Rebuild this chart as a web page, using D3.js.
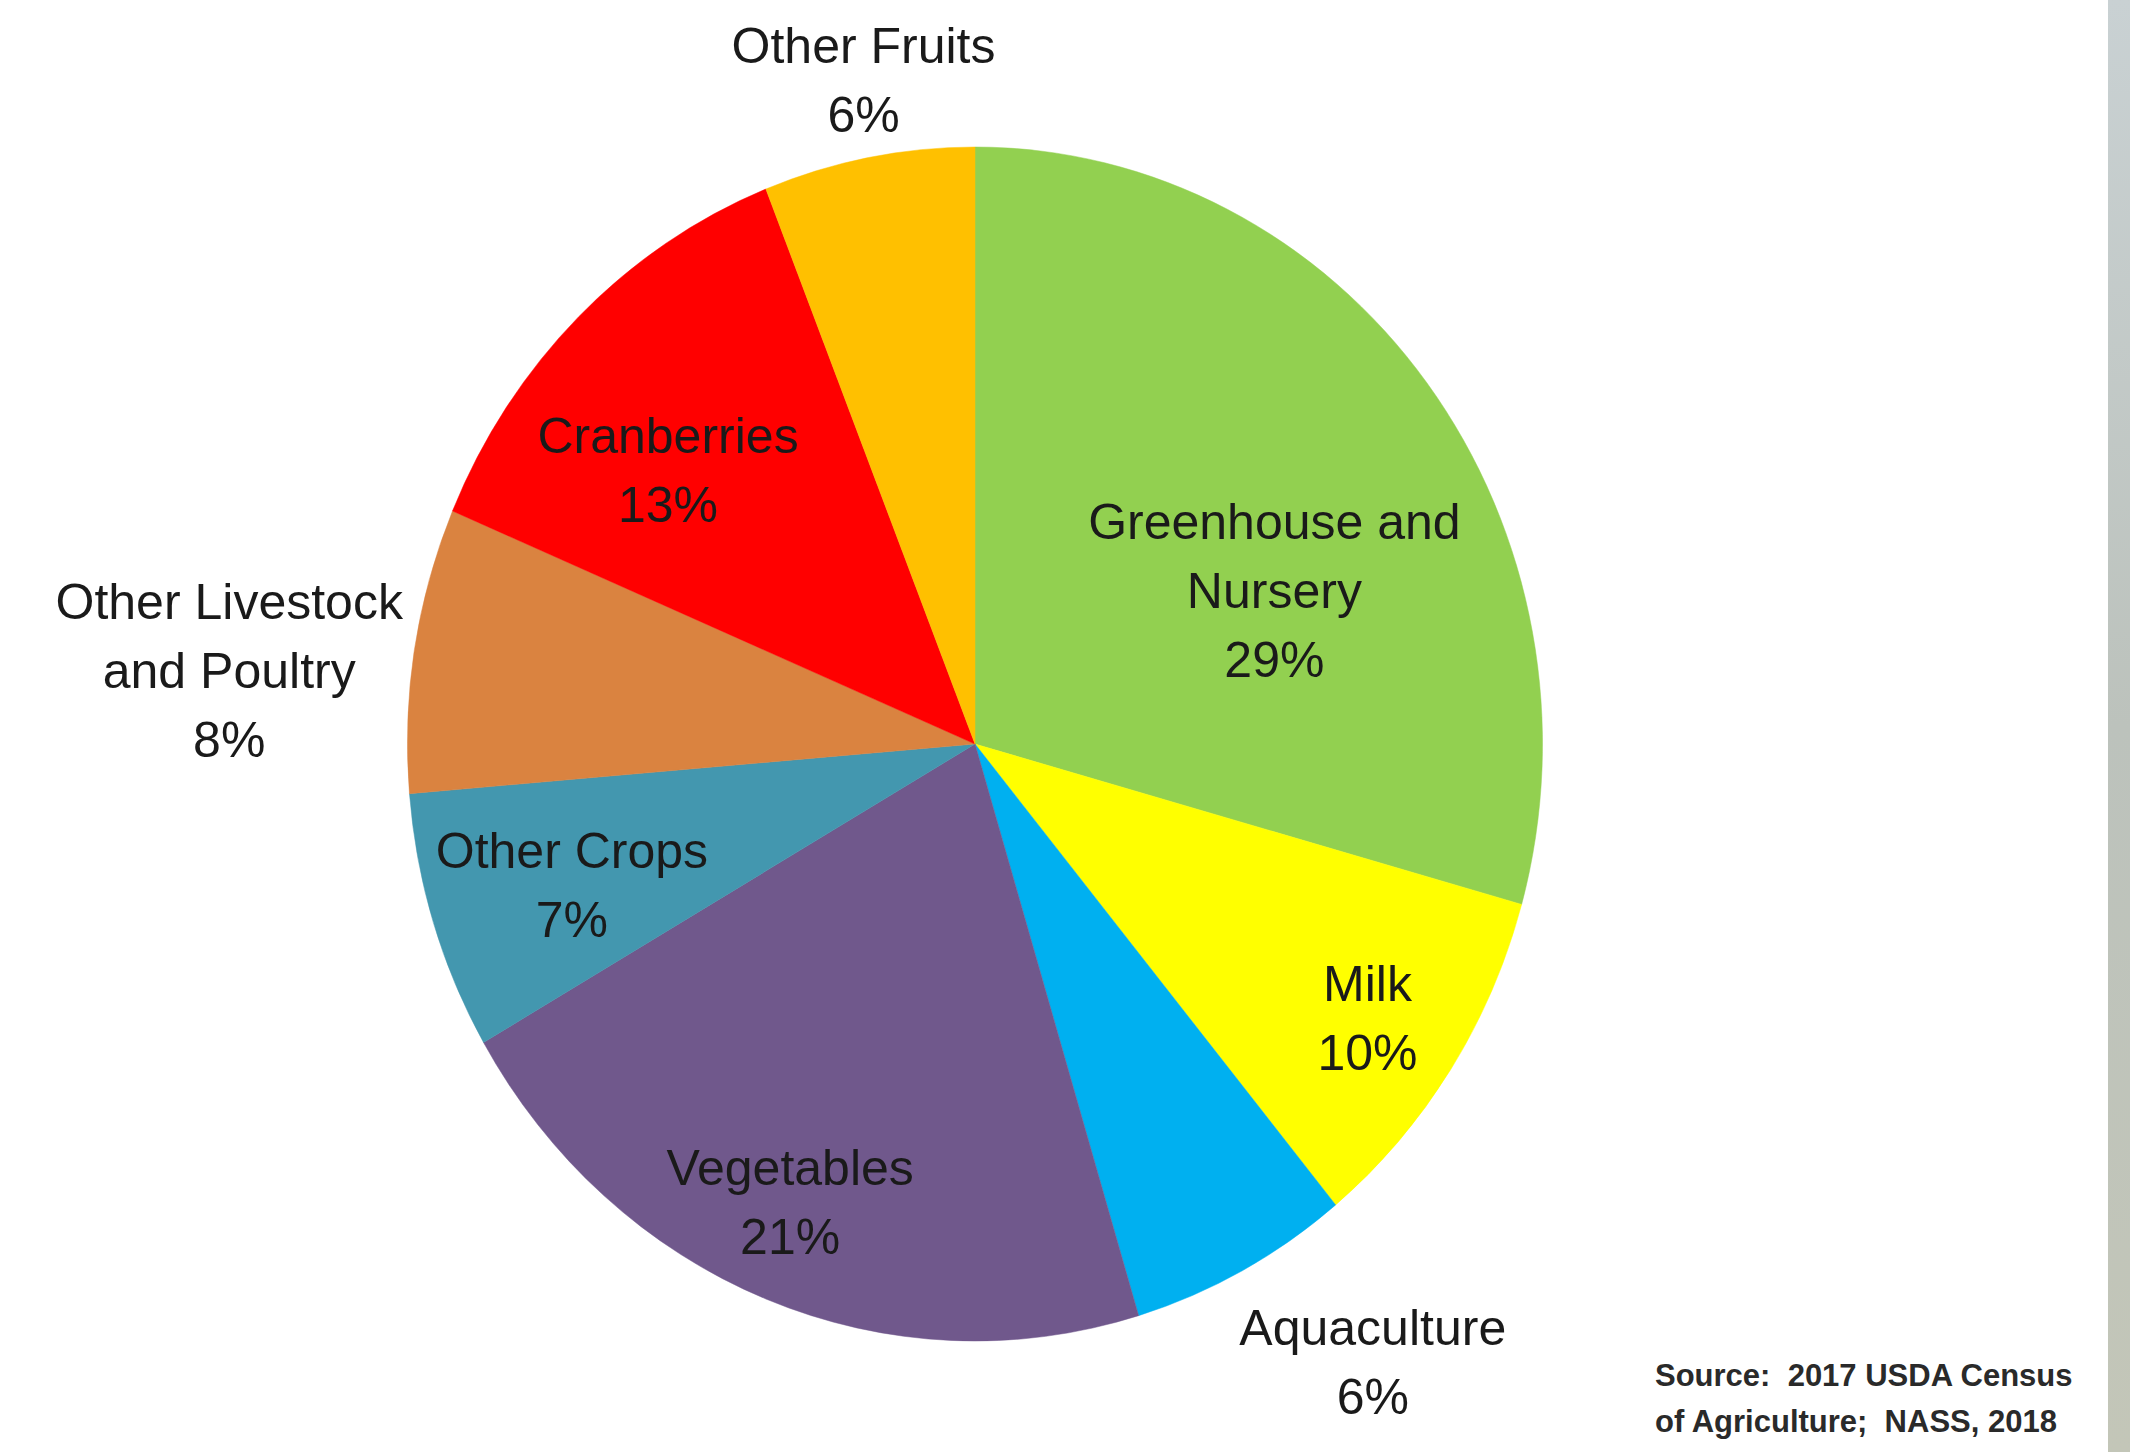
<!DOCTYPE html>
<html>
<head>
<meta charset="utf-8">
<script src="https://cdn.jsdelivr.net/npm/d3@7/dist/d3.min.js"></script>
<style>
  html, body { margin: 0; padding: 0; background: #ffffff; }
  svg { display: block; }
</style>
</head>
<body>
<svg id="chart" width="2130" height="1452"></svg>
<script>
// ---- data ----
const categories = ["Greenhouse and Nursery", "Milk", "Aquaculture", "Vegetables",
                    "Other Crops", "Other Livestock and Poultry", "Cranberries", "Other Fruits"];
const labelLines = [["Greenhouse and", "Nursery"], ["Milk"], ["Aquaculture"], ["Vegetables"],
                    ["Other Crops"], ["Other Livestock", "and Poultry"], ["Cranberries"], ["Other Fruits"]];
const shares = [29.3, 9.7, 6.3, 21.3, 7.0, 7.7, 12.6, 6.0];   // percent of sales
const colors = ["#92D050", "#FFFF00", "#00B0F0", "#70588C", "#4397AF", "#DA8340", "#FF0000", "#FFC000"];
const sourceLines = ["Source:  2017 USDA Census", "of Agriculture;  NASS, 2018"];

// ---- layout (label placement relative to slice: angle shift in degrees, radius fraction) ----
const labelLayout = [
  {da: 11.2, k: 0.587}, {da: 0.5, k: 0.83}, {da: -6, k: 1.25}, {da: 1.4, k: 0.833},
  {da: -0.9, k: 0.748}, {da: -3.7, k: 1.32}, {da: -5.3, k: 0.71}, {da: 0.8, k: 1.13}
];

const W = 2130, H = 1452;
const cx = 975, cy = 744, ry = 597, rx = 567.5;
const sx = rx / ry;

const svg = d3.select("#chart");
svg.append("rect").attr("width", W).attr("height", H).attr("fill", "#ffffff");

// grey strip on right edge
const defs = svg.append("defs");
const grad = defs.append("linearGradient").attr("id", "strip").attr("x1", 0).attr("y1", 0).attr("x2", 0).attr("y2", 1);
grad.append("stop").attr("offset", "0%").attr("stop-color", "#c9d1d3");
grad.append("stop").attr("offset", "50%").attr("stop-color", "#bcc2bc");
grad.append("stop").attr("offset", "100%").attr("stop-color", "#c3c6b8");
svg.append("rect").attr("x", 2108).attr("y", 0).attr("width", W - 2108).attr("height", H).attr("fill", "url(#strip)");

const data = categories.map((c, i) => ({name: c, value: shares[i], lines: labelLines[i], color: colors[i], layout: labelLayout[i]}));

const pie = d3.pie().value(d => d.value).sort(null);
const arcs = pie(data);
const arc = d3.arc().innerRadius(0).outerRadius(ry);

const g = svg.append("g").attr("transform", `translate(${cx},${cy}) scale(${sx},1)`);
g.selectAll("path").data(arcs).join("path")
  .attr("d", arc)
  .attr("fill", d => d.data.color)
  .attr("stroke", d => d.data.color)
  .attr("stroke-width", 0.5);

const fmt = v => Math.round(v) + "%";
const fontSize = 50, lineH = 69;
const lab = svg.append("g")
  .attr("font-family", "'Liberation Sans', Arial, sans-serif")
  .attr("font-size", fontSize)
  .attr("fill", "#1a1a1a")
  .attr("text-anchor", "middle");

arcs.forEach(d => {
  const L = d.data.layout;
  const mid = (d.startAngle + d.endAngle) / 2 + L.da * Math.PI / 180;
  const r = L.k * ry;
  const c = d3.arc().innerRadius(r).outerRadius(r).centroid({startAngle: mid, endAngle: mid});
  const x = cx + c[0] * sx, y = cy + c[1];
  const lines = d.data.lines.concat([fmt(d.data.value)]);
  const y0 = y - (lines.length - 1) * lineH / 2;
  const t = lab.append("text").attr("x", x).attr("y", y0).attr("dy", "0.36em");
  lines.forEach((ln, i) => {
    t.append("tspan").attr("x", x).attr("y", y0 + i * lineH).attr("dy", "0.36em").text(ln);
  });
});

const src = svg.append("text")
  .attr("font-family", "'Liberation Sans Narrow', 'Liberation Sans', Arial, sans-serif")
  .attr("font-size", 31)
  .attr("font-weight", "bold")
  .attr("fill", "#2a2a2a")
  .style("white-space", "pre")
  .attr("x", 1655).attr("y", 1386);
sourceLines.forEach((ln, i) => src.append("tspan").attr("x", 1655).attr("y", 1386 + i * 46).text(ln));
</script>
</body>
</html>
